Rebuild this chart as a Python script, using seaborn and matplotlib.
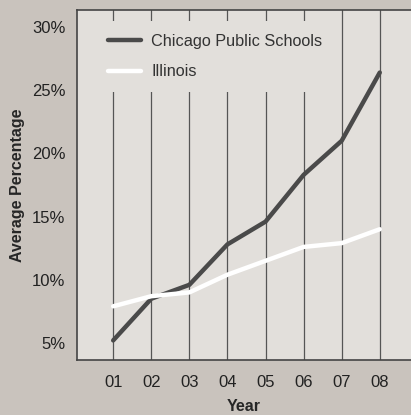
import pandas as pd
import matplotlib.pyplot as plt
import seaborn as sns
from matplotlib.ticker import FuncFormatter

years = [1, 2, 3, 4, 5, 6, 7, 8]
year_labels = ["01", "02", "03", "04", "05", "06", "07", "08"]
chicago = [5.2, 8.5, 9.6, 12.8, 14.6, 18.3, 21.0, 26.4]
illinois = [7.9, 8.7, 9.0, 10.4, 11.5, 12.6, 12.9, 14.0]
series_names = ["Chicago Public Schools", "Illinois"]

df = pd.DataFrame({
    "Year": years * 2,
    "Average Percentage": chicago + illinois,
    "Series": [series_names[0]] * len(years) + [series_names[1]] * len(years),
})

sns.set_style("white")
plt.rcParams['font.family'] = ['Liberation Sans', 'DejaVu Sans']

fig = plt.figure(figsize=(4.11, 4.15), dpi=100, facecolor="#c9c3bd")
ax = fig.add_axes([77 / 411, 55 / 415, 334 / 411, 350 / 415])
ax.set_facecolor("#e2dfdb")

sns.lineplot(data=df, x="Year", y="Average Percentage", hue="Series",
             palette={series_names[0]: "#4a4a4a", series_names[1]: "#ffffff"},
             linewidth=3.2, ax=ax)

ax.set_xlim(0.05, 8.82)
ax.set_ylim(3.65, 31.35)
ax.set_xticks(years)
ax.set_xticklabels(year_labels)
ax.set_yticks([5, 10, 15, 20, 25, 30])
ax.yaxis.set_major_formatter(FuncFormatter(lambda v, p: f"{v:.0f}%"))
ax.grid(axis="x", color="#555555", linewidth=0.9)
ax.grid(axis="y", visible=False)
ax.set_axisbelow(True)

for side in ["left", "bottom", "top"]:
    ax.spines[side].set_color("#444444")
    ax.spines[side].set_linewidth(1.2)
ax.spines["right"].set_visible(False)

ax.tick_params(axis="y", direction="out", length=5, color="#444444", labelsize=12, labelcolor="#222222")
ax.tick_params(axis="x", length=0, pad=11, labelsize=12, labelcolor="#222222")
ax.set_xlabel("Year", fontsize=11.5, fontweight="bold", labelpad=6)
ax.set_ylabel("Average Percentage", fontsize=11.5, fontweight="bold", labelpad=5)

leg = ax.legend(loc="upper left", bbox_to_anchor=(0.054, 0.969), borderaxespad=0,
                fontsize=11.7, frameon=True, fancybox=False,
                facecolor="#e2dfdb", edgecolor="none", framealpha=1,
                handlelength=2.0, handletextpad=0.65, labelspacing=0.95, borderpad=0.8)
for t in leg.get_texts():
    t.set_color("#333333")

plt.savefig("out.png", dpi=100, facecolor=fig.get_facecolor())
